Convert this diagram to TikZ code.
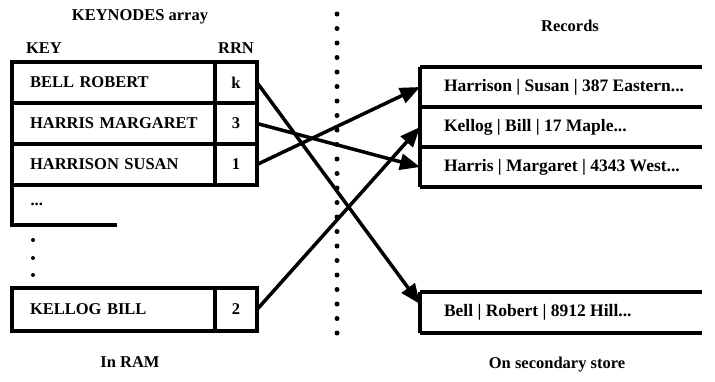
\documentclass[tikz,border=0pt]{standalone}
\usepackage{fontspec}
\setmainfont{Liberation Serif}
\usetikzlibrary{arrows.meta,positioning}
\tikzset{
  lbl/.style={font=\fontsize{16.5}{19}\selectfont\bfseries},
  keycell/.style={lbl, draw, line width=4pt, outer sep=0pt, minimum height=41pt,
                  text width=167pt, inner xsep=18pt, align=left},
  rrncell/.style={lbl, draw, line width=4pt, outer sep=0pt, minimum height=41pt,
                  minimum width=42pt, inner xsep=0pt},
  rec/.style={font=\fontsize{17.5}{20}\selectfont\bfseries, outer sep=0pt,
              minimum height=40pt, inner xsep=24pt},
  tbl/.style={line width=4pt},
  ptr/.style={-{Triangle[length=20pt,width=16pt]}, line width=3.5pt},
}
\newcommand{\kname}[1]{\mbox{#1}}

\begin{document}
\begin{tikzpicture}[x=1pt, y=-1pt]
  \useasboundingbox (0,0) rectangle (715,381);
  % keynodes array in RAM
  \node[lbl] (title) at (140,17) {KEYNODES array};
  \node[lbl] (hkey) at (44,48) {KEY};
  \node[lbl] (hrrn) at (236,48) {RRN};
  \node[keycell, anchor=north west] (k1) at (12,62) {\kname{BELL ROBERT}};
  \node[rrncell, right=0pt of k1] (n1) {k};
  \node[keycell, below=0pt of k1] (k2) {\kname{HARRIS MARGARET}};
  \node[rrncell, right=0pt of k2] (n2) {3};
  \node[keycell, below=0pt of k2] (k3) {\kname{HARRISON SUSAN}};
  \node[rrncell, right=0pt of k3] (n3) {1};
  \node[lbl, anchor=west] (more) at (27,204) {...};
  \draw[tbl] (k3.south west) -- ++(0,40) -- ++(105,0);
  \foreach \y in {240,258,275}
    \fill (33,\y) circle (2pt);
  \node[keycell, anchor=north west, minimum height=43pt] (k4) at (12,288) {\kname{KELLOG BILL}};
  \node[rrncell, right=0pt of k4, minimum height=43pt] (n4) {2};
  \node[lbl] (ram) at (130,362) {In RAM};

  % divider
  \coordinate (dtop) at (337,14);
  \coordinate (dbot) at (337,340);
  \draw[line width=5pt, line cap=round, dash pattern=on 0pt off 14.5pt] (dtop) -- (dbot);

  % records on secondary store
  \node[lbl] (rtitle) at (570,26) {Records};
  \node[rec, anchor=west] (rHS) at (420,87) {Harrison | Susan | 387 Eastern...};
  \node[rec, below=0pt of rHS.south west, anchor=north west] (rKB) {Kellog | Bill | 17 Maple...};
  \node[rec, below=0pt of rKB.south west, anchor=north west] (rHM) {Harris | Margaret | 4343 West...};
  \draw[tbl] (rHS.north west) -- ++(282,0);
  \draw[tbl] (rKB.north west) -- ++(282,0);
  \draw[tbl] (rHM.north west) -- ++(282,0);
  \draw[tbl] (rHM.south west) -- ++(282,0);
  \draw[tbl] (rHS.north west) -- (rHM.south west);
  \node[rec, anchor=west, minimum height=41pt] (rBR) at (420,312) {Bell | Robert | 8912 Hill...};
  \draw[tbl] (rBR.north west) -- ++(282,0);
  \draw[tbl] (rBR.south west) -- ++(282,0);
  \draw[tbl] (rBR.north west) -- (rBR.south west);
  \node[lbl] (sec) at (557,365) {On secondary store};

  % pointers
  \draw[ptr] (n1.east) -- ([yshift=8pt]rBR.west);
  \draw[ptr] (n2.east) -- (rHM.west);
  \draw[ptr] (n3.east) -- (rHS.west);
  \draw[ptr] (n4.east) -- (rKB.west);
\end{tikzpicture}
\end{document}
